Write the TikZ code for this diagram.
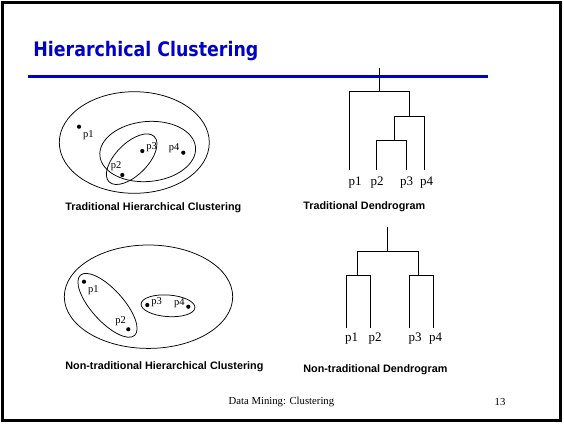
\documentclass[tikz,border=0pt]{standalone}
\usepackage{fontspec}
\setmainfont{Liberation Serif}
\setsansfont{Liberation Sans}
\newfontfamily\titlefont{DejaVu Sans}
\definecolor{slideblue}{RGB}{0,0,204}
\tikzset{
  dot/.style={circle,fill=black,inner sep=0pt,minimum size=4.2pt},
  ptlabel/.style={inner sep=0pt,font=\fontsize{10.5}{10.5}\selectfont},
  leaflabel/.style={inner sep=0pt,font=\fontsize{13}{13}\selectfont},
  caption/.style={anchor=west,inner sep=0pt,font=\sffamily\bfseries\fontsize{10.8}{11}\selectfont},
}
\begin{document}
\begin{tikzpicture}[x=1pt,y=-1pt,line width=0.75pt]
    \useasboundingbox (0,0) rectangle (564,424);
    % slide frame and title
    \draw[line width=3pt] (2.5,2.5) rectangle (560.5,420.5);
    \node[anchor=base west,inner sep=0pt,text=slideblue] (title) at (33,56.7)
        {\scalebox{0.87}[1]{\titlefont\bfseries\fontsize{20}{20}\selectfont Hierarchical Clustering}};
    \draw[slideblue,line width=3pt] (28,76) -- (488,76);
    % traditional clusters
    \draw (134.3,142.5) ellipse [x radius=75,y radius=50.8];
    \draw[rotate around={5:(147.7,151.5)}] (147.7,151.5) ellipse [x radius=48,y radius=30];
    \draw[rotate around={45:(131.7,159.2)}] (131.7,159.2) ellipse [x radius=32,y radius=16];
    \node[dot] (a1) at (79,126.7) {};
    \node[dot] (a2) at (122.3,175) {};
    \node[dot] (a3) at (142.3,151) {};
    \node[dot] (a4) at (183.3,152.7) {};
    \node[ptlabel] (a1l) at (88.3,135) {p1};
    \node[ptlabel] (a2l) at (116,166) {p2};
    \node[ptlabel] (a3l) at (151.7,147.3) {p3};
    \node[ptlabel] (a4l) at (174,148.3) {p4};
    \node[caption] (cap1) at (65,207.3) {Traditional Hierarchical Clustering};
    % traditional dendrogram
    \draw (379.3,68) -- (379.3,91.7);
    \draw (349.3,170) -- (349.3,91.7) -- (409.3,91.7) -- (409.3,116.7);
    \draw (394.3,140) -- (394.3,116.7) -- (424.3,116.7) -- (424.3,170);
    \draw (376,170) -- (376,140) -- (406.7,140) -- (406.7,170);
    \node[leaflabel] (b1) at (355,183) {p1};
    \node[leaflabel] (b2) at (377,183) {p2};
    \node[leaflabel] (b3) at (406.7,183) {p3};
    \node[leaflabel] (b4) at (426.7,183) {p4};
    \node[caption] (cap2) at (303,206.7) {Traditional Dendrogram};
    % non-traditional clusters
    \draw (148.5,296.7) ellipse [x radius=84.2,y radius=51.7];
    \draw[rotate around={-48:(107.5,305.3)}] (107.5,305.3) ellipse [x radius=40.5,y radius=16];
    \draw[rotate around={-4:(168,305.8)}] (168,305.8) ellipse [x radius=27,y radius=10.8];
    \node[dot] (c1) at (84,281.7) {};
    \node[dot] (c2) at (128.3,329.3) {};
    \node[dot] (c3) at (147.3,305) {};
    \node[dot] (c4) at (188.3,306.7) {};
    \node[ptlabel] (c1l) at (93.3,290) {p1};
    \node[ptlabel] (c2l) at (120.7,321) {p2};
    \node[ptlabel] (c3l) at (156.7,301.7) {p3};
    \node[ptlabel] (c4l) at (179.3,302.7) {p4};
    \node[caption] (cap3) at (65,366.7) {Non-traditional Hierarchical Clustering};
    % non-traditional dendrogram
    \draw (387.7,226.7) -- (387.7,251.7);
    \draw (357.7,275) -- (357.7,251.7) -- (418.3,251.7) -- (418.3,275);
    \draw (346,328.3) -- (346,275) -- (370,275) -- (370,328.3);
    \draw (409.3,328.3) -- (409.3,275) -- (433.3,275) -- (433.3,328.3);
    \node[leaflabel] (d1) at (351.7,338.3) {p1};
    \node[leaflabel] (d2) at (375,338.3) {p2};
    \node[leaflabel] (d3) at (415,338.3) {p3};
    \node[leaflabel] (d4) at (435.7,338.3) {p4};
    \node[caption] (cap4) at (303,370) {Non-traditional Dendrogram};
    % footer
    \node[anchor=west,inner sep=0pt,font=\fontsize{10.7}{10.7}\selectfont] (foot) at (228.3,401.7) {Data Mining: Clustering};
    \node[inner sep=0pt,font=\fontsize{10.7}{10.7}\selectfont] (page) at (500,401.7) {13};
\end{tikzpicture}
\end{document}
